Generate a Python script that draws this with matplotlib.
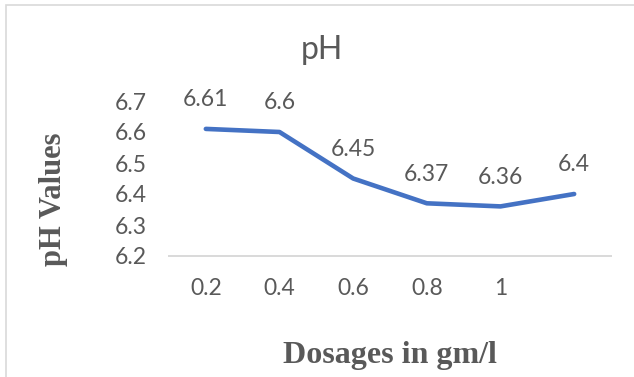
import matplotlib
matplotlib.use("Agg")
import matplotlib.pyplot as plt
from matplotlib.patches import Rectangle

# Dosage categories (the last category has no tick label) and measured pH
dosages = ["0.2", "0.4", "0.6", "0.8", "1", ""]
ph_values = [6.61, 6.6, 6.45, 6.37, 6.36, 6.4]
y_ticks = [6.2, 6.3, 6.4, 6.5, 6.6, 6.7]

TEXT = "#595959"
GRID = "#D9D9D9"
LINE = "#4472C4"

W, H = 634, 377
fig = plt.figure(figsize=(W / 100, H / 100), dpi=100)

# light frame around the chart area
fig.patches.append(Rectangle((6 / W, -0.05), 1.2, 1.05 - 5 / H,
                             transform=fig.transFigure, fill=False,
                             edgecolor=GRID, linewidth=1.2))

ax = fig.add_axes([169 / W, (H - 256) / H, (611 - 169) / W, (256 - 101) / H])
x = list(range(len(dosages)))
ax.plot(x, ph_values, color=LINE, linewidth=3.3,
        solid_capstyle="round", solid_joinstyle="round")

ax.set_xlim(-0.5, len(dosages) - 0.5)
ax.set_ylim(y_ticks[0], y_ticks[-1])
ax.set_xticks(x)
ax.set_xticklabels(dosages)
ax.set_yticks(y_ticks)
ax.set_yticklabels([f"{v:g}" for v in y_ticks])

for side in ("top", "right", "left"):
    ax.spines[side].set_visible(False)
ax.spines["bottom"].set_color(GRID)
ax.spines["bottom"].set_linewidth(1.4)
ax.tick_params(axis="both", length=0, labelsize=16.5, labelcolor=TEXT)
ax.tick_params(axis="y", pad=16)
ax.tick_params(axis="x", pad=16)
for lbl in ax.get_xticklabels() + ax.get_yticklabels():
    lbl.set_family("Lato")

# value labels above each point
for xi, v in zip(x, ph_values):
    ax.annotate(f"{v:g}", (xi, v), xytext=(0, 21), textcoords="offset points",
                ha="center", va="center", fontsize=16.5, color=TEXT,
                family="Lato", annotation_clip=False)

fig.text(322 / W, 1 - 59 / H, "pH", ha="center", va="baseline",
         fontsize=23, color=TEXT, family="Lato")
fig.text(390 / W, 1 - 363 / H, "Dosages in gm/l", ha="center", va="baseline",
         fontsize=23, color=TEXT, family="Liberation Serif", weight="bold")
fig.text(54 / W, 1 - 199 / H, "pH Values", ha="center", va="center",
         rotation=90, fontsize=22, color=TEXT, family="Liberation Serif",
         weight="bold")

fig.savefig("out.png", dpi=100, facecolor="white")
